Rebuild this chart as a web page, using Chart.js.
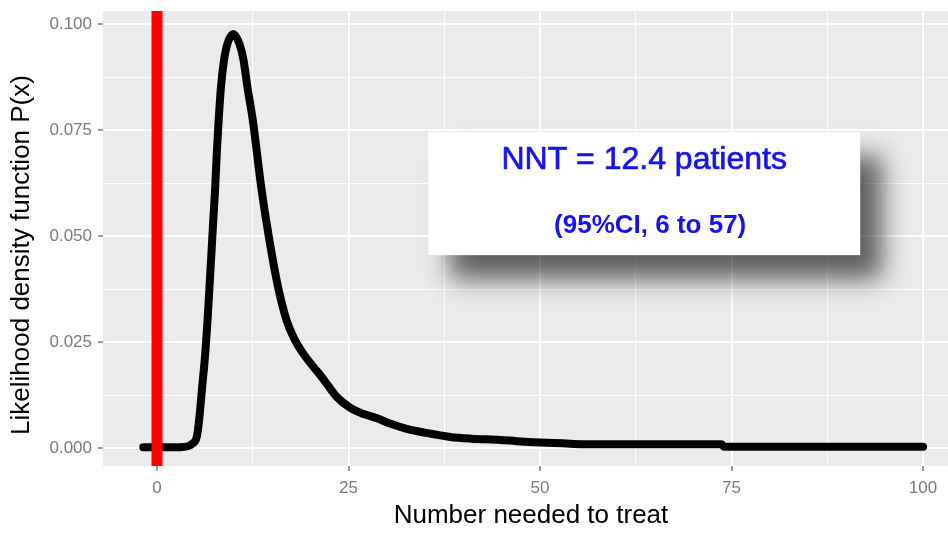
<!DOCTYPE html>
<html>
<head>
<meta charset="utf-8">
<script src="https://cdn.jsdelivr.net/npm/chart.js@4.4.1/dist/chart.umd.min.js"></script>
<style>
  html, body { margin: 0; padding: 0; background: #fff; }
</style>
</head>
<body>
<canvas id="nnt-chart" width="948" height="539"></canvas>
<script>
// Likelihood curve for the number needed to treat
const nntValues = [
  -1.8, 1, 3, 4, 4.6, 5.2, 5.5, 5.9, 6.3, 6.6, 6.85, 7.1, 7.35, 7.6, 7.8,
  8.05, 8.35, 8.75, 9.2, 9.95, 10.75, 11.3, 11.8, 12.5, 13.6, 14.6, 15.8,
  16.9, 17.8, 19, 20.4, 21.3, 22.3, 23.5, 25.2, 27, 28.7, 30.5, 32.6, 35,
  38.3, 41, 44.8, 47, 50, 53, 55.6, 65, 73.7, 74, 85, 100,
];
const densityValues = [
  0.0002, 0.0002, 0.0002, 0.0004, 0.0010, 0.0027, 0.0066, 0.0145, 0.0223,
  0.0302, 0.0380, 0.0459, 0.0538, 0.0616, 0.0695, 0.0774, 0.0852, 0.0915,
  0.0954, 0.0977, 0.0954, 0.0915, 0.0852, 0.0774, 0.0616, 0.0498, 0.0380,
  0.0302, 0.0262, 0.0225, 0.0192, 0.0172, 0.0148, 0.0120, 0.0095, 0.0080,
  0.0070, 0.0057, 0.0045, 0.0036, 0.0026, 0.0022, 0.0019, 0.0016, 0.0013,
  0.0011, 0.0009, 0.0009, 0.0009, 0.0003, 0.0003, 0.0003,
];

// null line at NNT = 0
const nullLineX = 0;

const xRange = [-7.05, 103.26];
const yRange = [-0.00425, 0.1031];
const xTicks = [0, 12.5, 25, 37.5, 50, 62.5, 75, 87.5, 100];
const yTicks = [0, 0.0125, 0.025, 0.0375, 0.05, 0.0625, 0.075, 0.0875, 0.1];
const xMajorStep = 25;
const yMajorStep = 0.025;

const xTitle = 'Number needed to treat';
const yTitle = 'Likelihood density function P(x)';
const annotationLines = ['NNT = 12.4 patients', '(95%CI, 6 to 57)'];
const annotationBoxX = [35.4, 91.8];
const annotationBoxY = [0.0745, 0.0455];

const FONT = '"Liberation Sans", Arial, Helvetica, sans-serif';
const TICK_COLOR = '#777a87';

function isMajor(value, step) {
  const r = value / step;
  return Math.abs(r - Math.round(r)) < 1e-6;
}

const panelBackground = {
  id: 'panelBackground',
  beforeDraw(chart) {
    const { ctx, chartArea: a } = chart;
    ctx.save();
    ctx.fillStyle = '#ebebeb';
    ctx.fillRect(a.left, a.top, a.right - a.left, a.bottom - a.top);
    ctx.restore();
  },
};

// axis titles, placed like the ggplot original (not quite centred on the panel)
const axisTitles = {
  id: 'axisTitles',
  afterDraw(chart) {
    const { ctx } = chart;
    ctx.save();
    ctx.fillStyle = '#000000';
    ctx.font = `26px ${FONT}`;
    ctx.textAlign = 'center';
    ctx.textBaseline = 'middle';
    ctx.fillText(xTitle, 531, 516);
    ctx.translate(22, 255);
    ctx.rotate(-Math.PI / 2);
    ctx.fillText(yTitle, 0, 0);
    ctx.restore();
  },
};

const nntLabel = {
  id: 'nntLabel',
  afterDatasetsDraw(chart) {
    const { ctx, scales: { x, y } } = chart;
    const left = x.getPixelForValue(annotationBoxX[0]);
    const right = x.getPixelForValue(annotationBoxX[1]);
    const top = y.getPixelForValue(annotationBoxY[0]);
    const bottom = y.getPixelForValue(annotationBoxY[1]);
    const cx = (left + right) / 2;

    ctx.save();
    ctx.shadowColor = 'rgba(0, 0, 0, 0.6)';
    ctx.shadowBlur = 24;
    ctx.shadowOffsetX = 22;
    ctx.shadowOffsetY = 24;
    ctx.fillStyle = '#ffffff';
    ctx.fillRect(left, top, right - left, bottom - top);
    ctx.restore();

    ctx.save();
    ctx.fillStyle = '#1414ee';
    ctx.strokeStyle = '#1414ee';
    ctx.lineWidth = 0.7;
    ctx.textAlign = 'center';
    ctx.textBaseline = 'alphabetic';
    ctx.font = `32px ${FONT}`;
    ctx.fillText(annotationLines[0], cx, top + 37);
    ctx.strokeText(annotationLines[0], cx, top + 37);
    ctx.font = `bold 26px ${FONT}`;
    ctx.fillText(annotationLines[1], cx + 6, top + 101);
    ctx.restore();
  },
};

const curvePoints = nntValues.map((v, i) => ({ x: v, y: densityValues[i] }));

new Chart(document.getElementById('nnt-chart'), {
  type: 'line',
  data: {
    datasets: [
      {
        label: 'No effect',
        data: [{ x: nullLineX, y: yRange[0] }, { x: nullLineX, y: yRange[1] }],
        borderColor: '#ff0000',
        borderWidth: 11,
        borderCapStyle: 'butt',
        pointRadius: 0,
        order: 0,
      },
      {
        label: 'Likelihood',
        data: curvePoints,
        borderColor: '#000000',
        borderWidth: 8,
        borderCapStyle: 'round',
        borderJoinStyle: 'round',
        cubicInterpolationMode: 'monotone',
        pointRadius: 0,
        order: 1,
      },
    ],
  },
  options: {
    responsive: false,
    animation: false,
    layout: { padding: { top: 11, right: 0, bottom: 0, left: 0 } },
    plugins: { legend: { display: false }, tooltip: { enabled: false } },
    scales: {
      x: {
        type: 'linear',
        min: xRange[0],
        max: xRange[1],
        afterBuildTicks: (scale) => { scale.ticks = xTicks.map((value) => ({ value })); },
        afterFit: (scale) => {
          scale.height = 73;
          scale.paddingLeft = 0;
          scale.paddingRight = 0;
        },
        border: { display: false },
        grid: {
          color: '#ffffff',
          lineWidth: (c) => (c.tick && isMajor(c.tick.value, xMajorStep) ? 2 : 1),
          tickColor: (c) => (c.tick && isMajor(c.tick.value, xMajorStep) ? TICK_COLOR : 'rgba(0,0,0,0)'),
          tickLength: 5,
          tickWidth: 1.5,
        },
        ticks: {
          autoSkip: false,
          maxRotation: 0,
          padding: 7,
          color: TICK_COLOR,
          font: { family: FONT, size: 17 },
          callback: (v) => (isMajor(v, xMajorStep) ? String(v) : ''),
        },
      },
      y: {
        type: 'linear',
        min: yRange[0],
        max: yRange[1],
        afterBuildTicks: (scale) => { scale.ticks = yTicks.map((value) => ({ value })); },
        afterFit: (scale) => {
          scale.width = 103;
          scale.paddingTop = 0;
          scale.paddingBottom = 0;
        },
        border: { display: false },
        grid: {
          color: '#ffffff',
          lineWidth: (c) => (c.tick && isMajor(c.tick.value, yMajorStep) ? 2 : 1),
          tickColor: (c) => (c.tick && isMajor(c.tick.value, yMajorStep) ? TICK_COLOR : 'rgba(0,0,0,0)'),
          tickLength: 5,
          tickWidth: 1.5,
        },
        ticks: {
          autoSkip: false,
          padding: 6,
          color: TICK_COLOR,
          font: { family: FONT, size: 17 },
          callback: (v) => (isMajor(v, yMajorStep) ? v.toFixed(3) : ''),
        },
      },
    },
  },
  plugins: [panelBackground, nntLabel, axisTitles],
});
</script>
</body>
</html>
